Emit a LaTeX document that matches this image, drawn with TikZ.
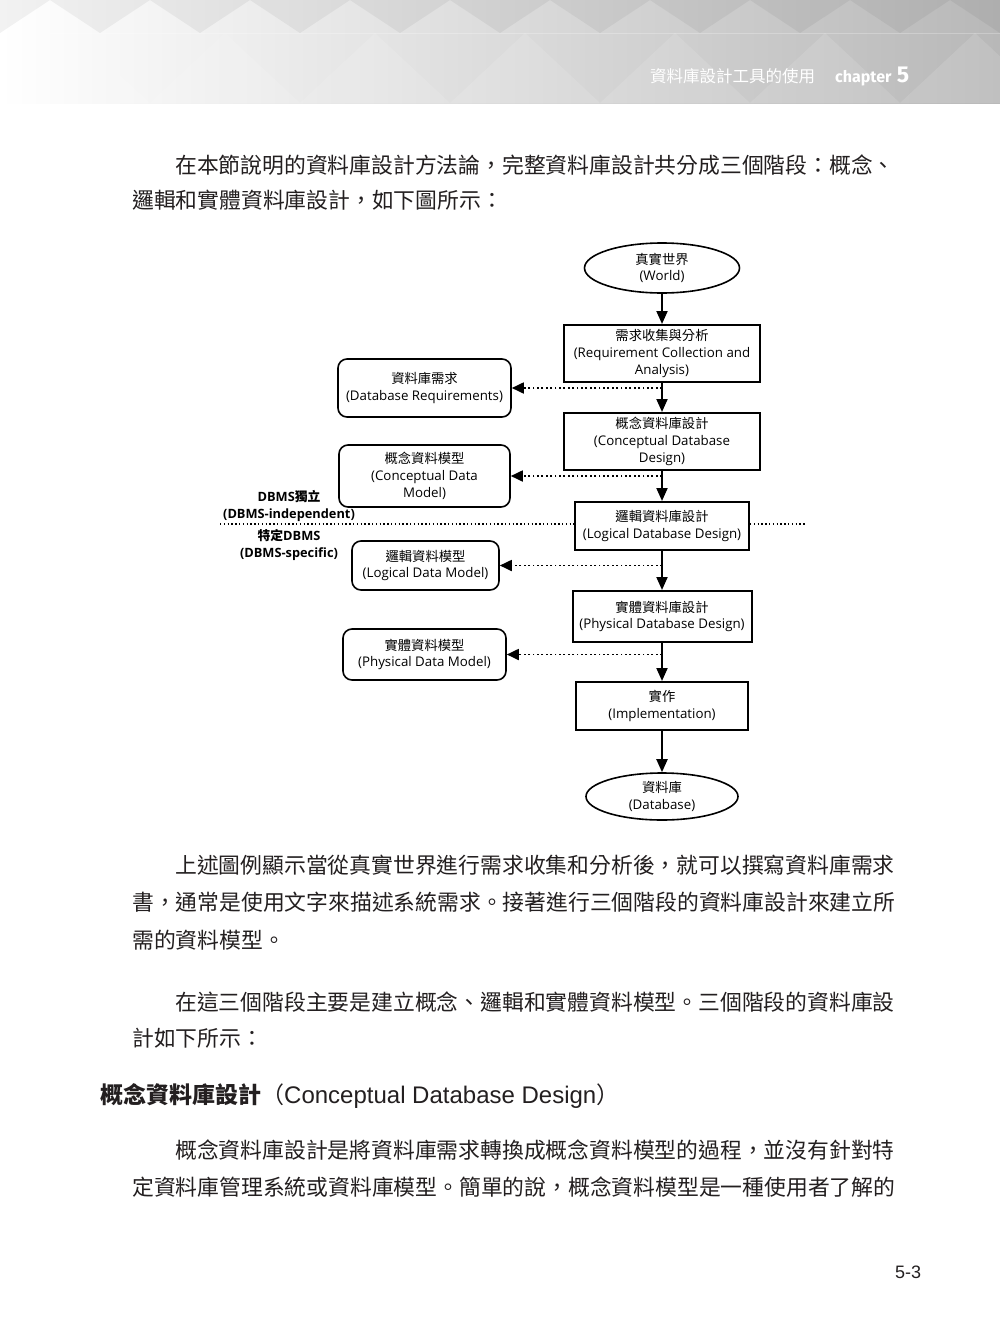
\documentclass[tikz,border=0pt]{standalone}
\usepackage{fontspec}
\setmainfont{Open Sans}
\newfontfamily\cjk{Noto Sans CJK TC}
\newfontfamily\arial{Liberation Sans}
\newfontfamily\hdfont{Fira Sans}
\usetikzlibrary{arrows.meta,shapes.geometric,positioning}

\definecolor{inkblack}{HTML}{231F20}
\definecolor{bandgray}{HTML}{B8B8B8}
\definecolor{bandmid}{HTML}{DADADA}

\newcommand{\boxfont}{\fontsize{13.3}{16.8}\selectfont}
\newcommand{\bodyfont}{\cjk\fontsize{21.8}{30}\selectfont}

\begin{document}
\begin{tikzpicture}[x=1pt, y=-1pt,
    proc/.style={draw, line width=2pt, inner sep=0pt, align=center, font=\boxfont},
    datbox/.style={draw, line width=1.6pt, rounded corners=9pt, inner sep=0pt, align=center, font=\boxfont},
    term/.style={draw, ellipse, line width=1.6pt, inner sep=0pt, align=center, font=\boxfont},
    flow/.style={-{Triangle[width=11pt,length=13pt]}, line width=2pt},
    feed/.style={-{Triangle[width=11pt,length=12pt]}, line width=1.8pt, dash pattern=on 1.8pt off 2.6pt},
    sepline/.style={line width=1.4pt, dash pattern=on 1.4pt off 2.4pt},
    body/.style={anchor=west, inner sep=0pt, font=\bodyfont, text=inkblack}]

    \useasboundingbox (0,0) rectangle (1000,1341);
    \fill[white] (0,0) rectangle (1000,1341);

    % header band
    \shade[left color=white, middle color=bandmid, right color=bandgray] (0,0) rectangle (1000,103);
    \begin{scope}
    \clip (0,0) rectangle (1000,103);
    \foreach \i in {0,...,10}
        \fill[black, opacity=0.05] (\i*100-50,0) -- (\i*100+50,0) -- (\i*100,33) -- cycle;
    \foreach \i in {-1,...,7}
        \fill[white, opacity=0.12] (\i*150,103) -- (\i*150+75,33) -- (\i*150+150,103) -- cycle;
    \draw[white, opacity=0.25, line width=1pt] (0,33) -- (1000,33);
    \end{scope}

    \node[anchor=west, inner sep=0pt, text=white, font=\cjk\fontsize{16.5}{18}\selectfont] (hdtitle) at (650,76) {資料庫設計工具的使用};
    \node[anchor=base west, inner sep=0pt, text=white, font=\hdfont\bfseries\fontsize{16}{18}\selectfont] (hdchap) at (835,82) {chapter};
    \node[anchor=base west, inner sep=0pt, xshift=5pt, text=white, font=\hdfont\bfseries\fontsize{23}{24}\selectfont] (hdnum) at (hdchap.base east) {5};

    % text above
    \node[body] (p1a) at (175,165) {在本節說明的資料庫設計方法論，完整資料庫設計共分成三個階段：概念、};
    \node[body] (p1b) at (132,200) {邏輯和實體資料庫設計，如下圖所示：};

    % diagram
    \node[term, minimum width=155pt, minimum height=50pt] (w) at (662,268) {{\cjk 真實世界}\\(World)};
    \node[proc, minimum width=196pt, minimum height=57pt] (rc) at (662,353.5) {{\cjk 需求收集與分析}\\(Requirement Collection and\\Analysis)};
    \node[proc, minimum width=196pt, minimum height=57pt] (cd) at (662,441.5) {{\cjk 概念資料庫設計}\\(Conceptual Database\\Design)};
    \node[proc, minimum width=174pt, minimum height=48pt] (ld) at (662,526) {{\cjk 邏輯資料庫設計}\\(Logical Database Design)};
    \node[proc, minimum width=179pt, minimum height=51pt] (pd) at (662,616.5) {{\cjk 實體資料庫設計}\\(Physical Database Design)};
    \node[proc, minimum width=172pt, minimum height=48pt] (im) at (662,706) {{\cjk 實作}\\(Implementation)};
    \node[term, minimum width=152pt, minimum height=47pt] (db) at (662,796.5) {{\cjk 資料庫}\\(Database)};

    \node[datbox, minimum width=173pt, minimum height=58pt] (dr) at (424.5,388) {{\cjk 資料庫需求}\\(Database Requirements)};
    \node[datbox, minimum width=171pt, minimum height=62pt] (cm) at (424.5,476) {{\cjk 概念資料模型}\\(Conceptual Data\\Model)};
    \node[datbox, minimum width=147pt, minimum height=49pt] (lm) at (425.5,565.5) {{\cjk 邏輯資料模型}\\(Logical Data Model)};
    \node[datbox, minimum width=163pt, minimum height=51pt] (pm) at (424.5,654.5) {{\cjk 實體資料模型}\\(Physical Data Model)};

    \node[align=center, inner sep=0pt, font=\bfseries\fontsize{12.8}{17.5}\selectfont] (ind) at (289,506) {DBMS{\cjk 獨立}\\(DBMS-independent)};
    \node[align=center, inner sep=0pt, font=\bfseries\fontsize{12.8}{17}\selectfont] (spc) at (289,545) {{\cjk 特定}DBMS\\(DBMS-specific)};

    \coordinate (sepL) at (220,524);
    \coordinate (sepR) at (805,524);
    \coordinate (f1) at (662,388);
    \coordinate (f2) at (662,476);
    \coordinate (f3) at (662,565.5);
    \coordinate (f4) at (662,654.5);

    \draw [sepline] (sepL) to (sepL -| ld.west);
    \draw [sepline] (sepR -| ld.east) to (sepR);

    \draw [feed] (f1) to (dr);
    \draw [feed] (f2) to (cm);
    \draw [feed] (f3) to (lm);
    \draw [feed] (f4) to (pm);

    \draw [flow] (w) to (rc);
    \draw [flow] (rc) to (cd);
    \draw [flow] (cd) to (ld);
    \draw [flow] (ld) to (pd);
    \draw [flow] (pd) to (im);
    \draw [flow] (im) to (db);

    % text below
    \node[body] (p2a) at (175,865) {上述圖例顯示當從真實世界進行需求收集和分析後，就可以撰寫資料庫需求};
    \node[body] (p2b) at (132,902) {書，通常是使用文字來描述系統需求。接著進行三個階段的資料庫設計來建立所};
    \node[body] (p2c) at (132,940) {需的資料模型。};

    \node[body] (p3a) at (175,1002) {在這三個階段主要是建立概念、邏輯和實體資料模型。三個階段的資料庫設};
    \node[body] (p3b) at (132,1038) {計如下所示：};

    \node[anchor=west, inner sep=0pt, text=inkblack] (sec) at (100,1096) {{\cjk\bfseries\fontsize{23}{26}\selectfont 概念資料庫設計}{\cjk\fontsize{23}{26}\selectfont （}{\arial\fontsize{24}{26}\selectfont Conceptual Database Design}{\cjk\fontsize{23}{26}\selectfont ）}};

    \node[body] (p4a) at (175,1150) {概念資料庫設計是將資料庫需求轉換成概念資料模型的過程，並沒有針對特};
    \node[body] (p4b) at (132,1187) {定資料庫管理系統或資料庫模型。簡單的說，概念資料模型是一種使用者了解的};

    \node[anchor=west, inner sep=0pt, text=inkblack, font=\arial\fontsize{18}{20}\selectfont] (pg) at (895,1272) {5-3};

\end{tikzpicture}
\end{document}
